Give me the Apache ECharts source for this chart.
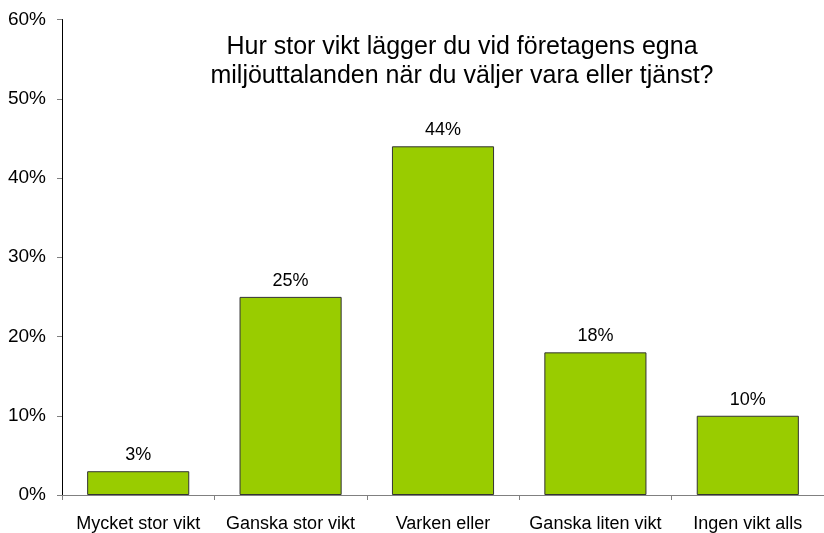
<!DOCTYPE html>
<html>
<head>
<meta charset="utf-8">
<script src="https://cdn.jsdelivr.net/npm/echarts@6/dist/echarts.min.js"></script>
<style>
  html, body { margin: 0; padding: 0; background: #fff; }
  #chart { width: 824px; height: 533px; }
</style>
</head>
<body>
<div id="chart"></div>
<script>
const categories = ["Mycket stor vikt", "Ganska stor vikt", "Varken eller", "Ganska liten vikt", "Ingen vikt alls"];
const values = [3, 25, 44, 18, 10];
const yTicks = [0, 10, 20, 30, 40, 50, 60];

const chart = echarts.init(document.getElementById("chart"));
const font = "'Liberation Sans', Arial, sans-serif";

chart.setOption({
  animation: false,
  title: {
    text: "Hur stor vikt lägger du vid företagens egna\nmiljöuttalanden när du väljer vara eller tjänst?",
    left: 457,
    top: 28,
    textAlign: "center",
    textStyle: { fontFamily: font, fontSize: 25, fontWeight: "normal", color: "#000", lineHeight: 29 },
  },
  grid: { left: 62, top: 19.5, width: 765, bottom: 37.5, containLabel: false },
  xAxis: {
    type: "category",
    data: categories,
    axisLine: { lineStyle: { color: "#808080", width: 1 } },
    axisTick: { show: true, length: 5, lineStyle: { color: "#808080" } },
    axisLabel: { fontFamily: font, fontSize: 18, color: "#000", margin: 20, interval: 0 },
  },
  yAxis: {
    type: "value",
    min: yTicks[0],
    max: yTicks[yTicks.length - 1],
    interval: 10,
    splitLine: { show: false },
    axisLine: { show: true, lineStyle: { color: "#000", width: 1 } },
    axisTick: { show: true, length: 5, lineStyle: { color: "#808080" } },
    axisLabel: { fontFamily: font, fontSize: 19, color: "#000", margin: 16, formatter: "{value}%" },
  },
  series: [{
    type: "bar",
    data: values,
    barWidth: "67%",
    itemStyle: { color: "#99CC00", borderColor: "#333", borderWidth: 1 },
    label: {
      show: true,
      position: "top",
      distance: 7,
      formatter: "{c}%",
      fontFamily: font,
      fontSize: 18,
      color: "#000",
    },
  }],
});
</script>
</body>
</html>
